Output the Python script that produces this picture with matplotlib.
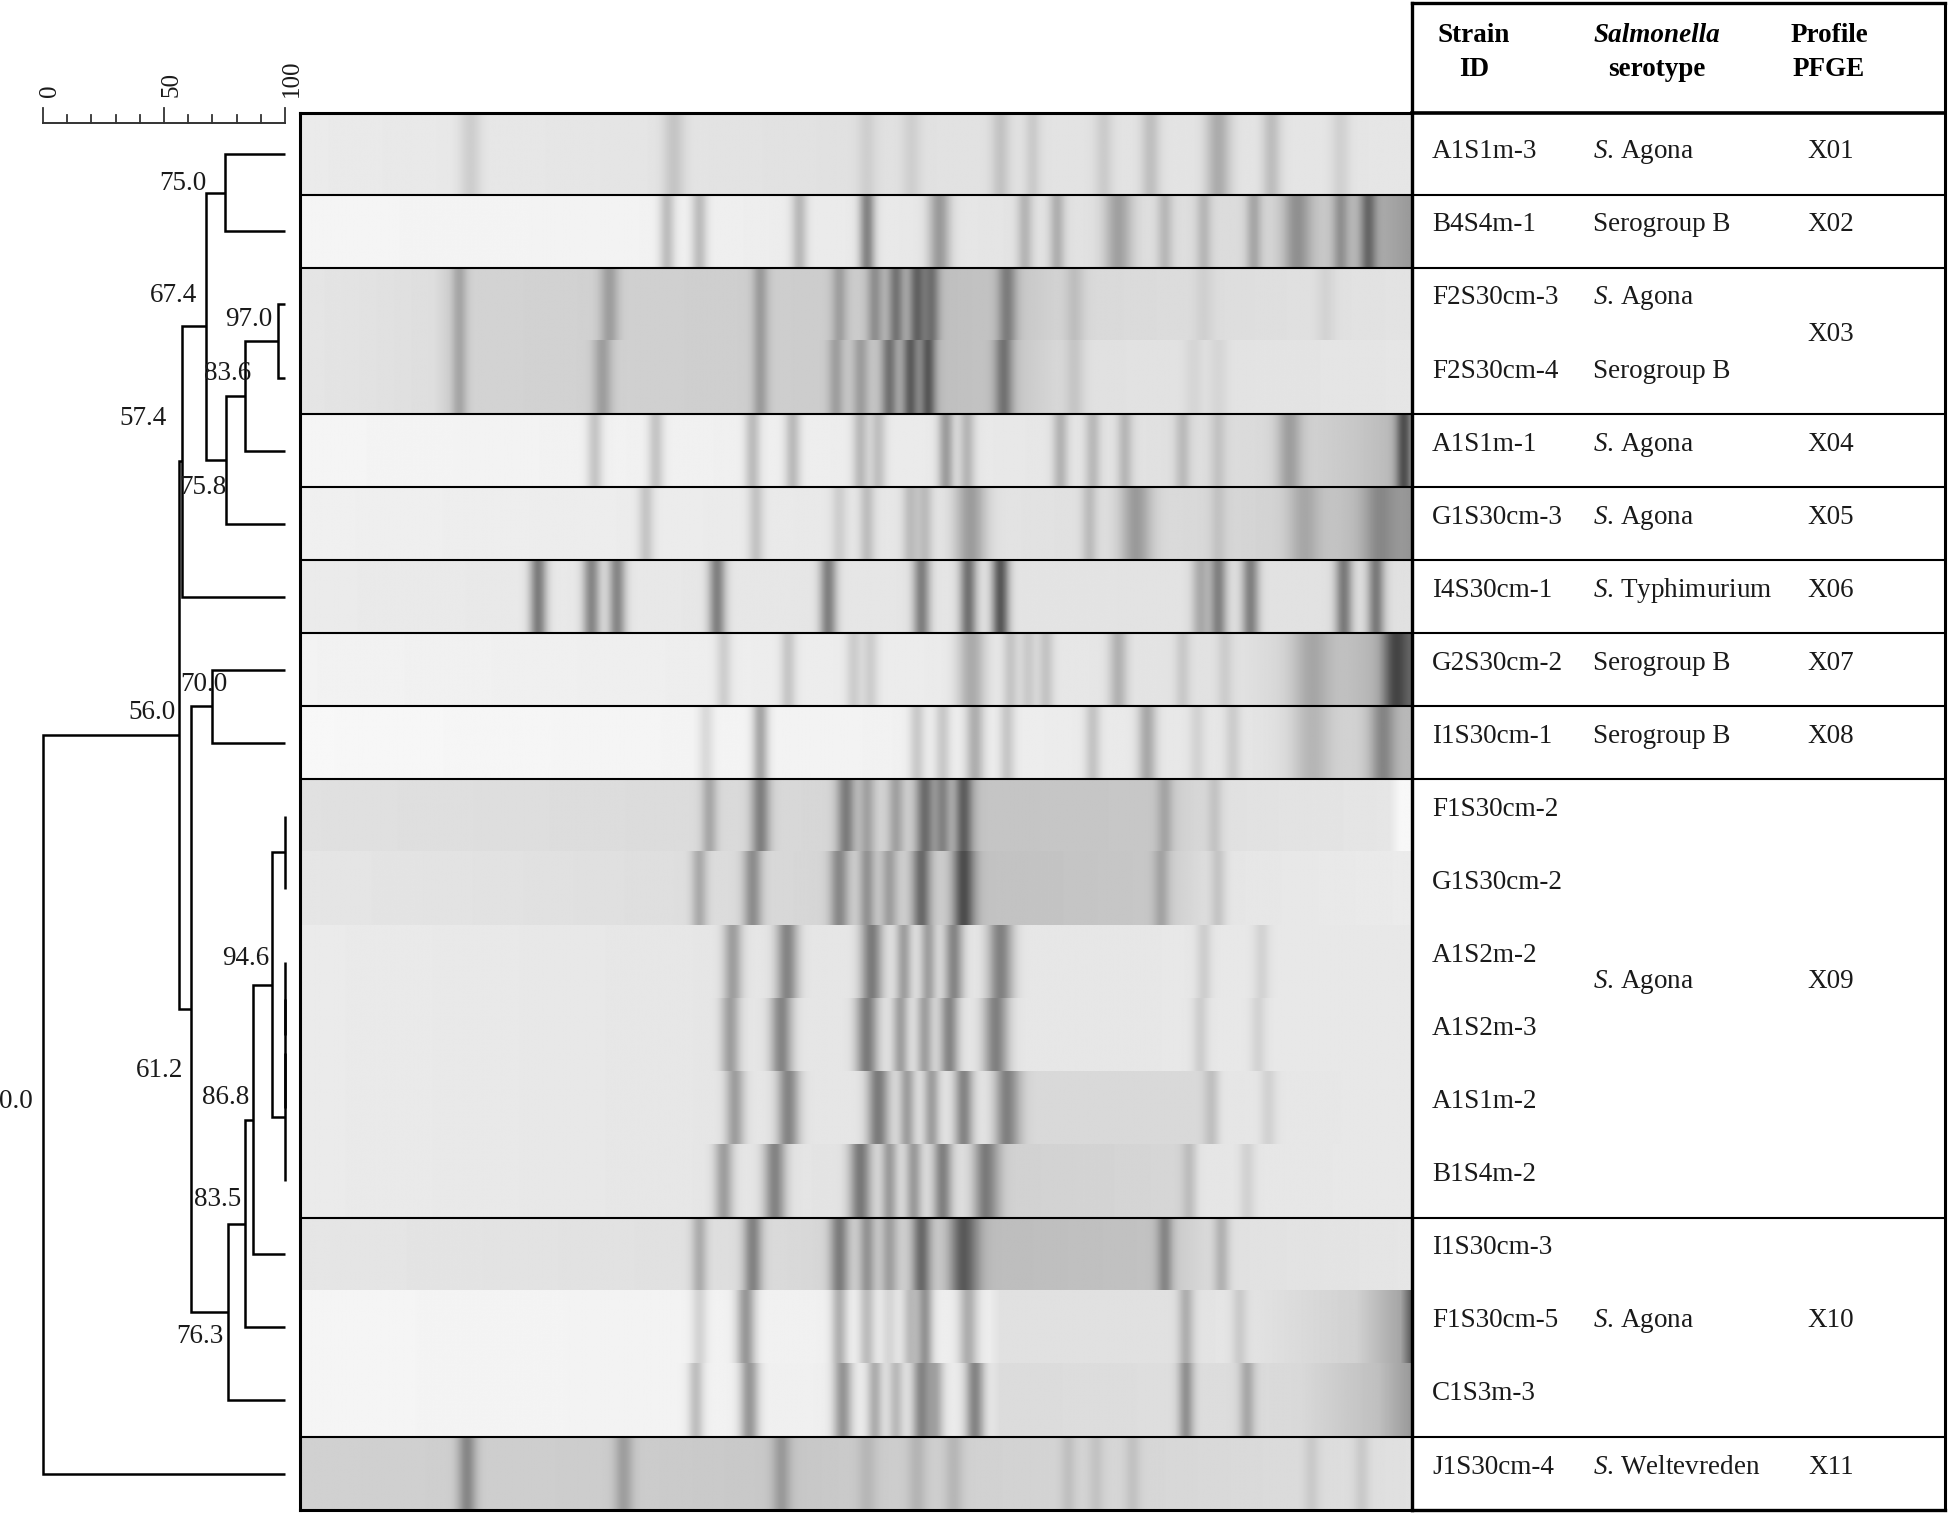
import numpy as np
import matplotlib
matplotlib.use("Agg")
import matplotlib.pyplot as plt

plt.rcParams['font.family'] = ['Liberation Serif', 'DejaVu Serif']
plt.rcParams['mathtext.fontset'] = 'custom'
plt.rcParams['mathtext.rm'] = 'Liberation Serif'
plt.rcParams['mathtext.it'] = 'Liberation Serif:italic'
plt.rcParams['mathtext.bf'] = 'Liberation Serif:bold'

# ---------------- data ----------------
strains = ["A1S1m-3", "B4S4m-1", "F2S30cm-3", "F2S30cm-4", "A1S1m-1", "G1S30cm-3",
           "I4S30cm-1", "G2S30cm-2", "I1S30cm-1", "F1S30cm-2", "G1S30cm-2", "A1S2m-2",
           "A1S2m-3", "A1S1m-2", "B1S4m-2", "I1S30cm-3", "F1S30cm-5", "C1S3m-3", "J1S30cm-4"]

AG = r"$\mathit{S}$. Agona"
serotype_names = [AG, "Serogroup B", AG, "Serogroup B", AG, AG, r"$\mathit{S}$. Typhimurium",
                  "Serogroup B", "Serogroup B", AG, AG, r"$\mathit{S}$. Weltevreden"]
serotype_first = [0, 1, 2, 3, 4, 5, 6, 7, 8, 9, 15, 18]
serotype_last = [0, 1, 2, 3, 4, 5, 6, 7, 8, 14, 17, 18]

profile_names = ["X01", "X02", "X03", "X04", "X05", "X06", "X07", "X08", "X09", "X10", "X11"]
profile_first = [0, 1, 2, 4, 5, 6, 7, 8, 9, 15, 18]
profile_last = [0, 1, 3, 4, 5, 6, 7, 8, 14, 17, 18]

# dendrogram merges (ids >= 19 are previous merges, in order)
merge_a = [2, 19, 20, 0, 22, 23, 7, 9, 11, 27, 28, 26, 30, 31, 32, 25, 24, 35]
merge_b = [3, 4, 5, 1, 21, 6, 8, 10, 12, 13, 14, 29, 15, 16, 17, 33, 34, 18]
merge_sim = [97.0, 83.6, 75.8, 75.0, 67.4, 57.4, 70.0, 100, 100, 100, 100,
             94.6, 86.8, 83.5, 76.3, 61.2, 56.0, 0.0]

scale_ticks = [0, 10, 20, 30, 40, 50, 60, 70, 80, 90, 100]
scale_labels = [0, 50, 100]

# gel lanes: band positions (% of gel width), intensities, widths; background levels
band_pos = [
    [15.3, 33.6, 51.0, 55.0, 63.0, 65.9, 72.3, 76.5, 82.6, 87.4, 93.6],
    [33.0, 35.9, 44.9, 51.0, 57.5, 65.2, 68.1, 73.6, 77.8, 81.3, 85.8, 89.7, 93.6, 96.1],
    [14.3, 27.8, 41.4, 48.5, 51.7, 53.6, 55.5, 56.8, 63.6, 69.7, 81.3, 92.3],
    [14.3, 27.2, 41.4, 48.2, 50.4, 53.0, 54.9, 56.5, 63.3, 69.7, 80.4, 82.6],
    [26.5, 32.0, 40.7, 44.3, 50.4, 52.0, 58.1, 60.0, 68.4, 71.3, 74.2, 79.4, 82.6, 89.0, 99.3],
    [31.1, 41.0, 48.5, 51.0, 54.9, 56.2, 60.3, 71.0, 75.2, 82.6, 90.3, 97.0],
    [21.4, 26.2, 28.5, 37.5, 47.5, 55.9, 60.1, 63.0, 81.0, 82.6, 85.5, 93.9, 96.8],
    [38.1, 43.9, 49.8, 51.3, 60.4, 63.9, 65.5, 67.1, 73.6, 79.4, 83.2, 91.0, 98.5],
    [36.5, 41.4, 55.5, 57.8, 60.7, 63.6, 71.3, 76.2, 80.7, 83.9, 91.0, 97.4],
    [36.8, 41.4, 49.1, 51.0, 53.6, 56.2, 57.8, 59.7, 77.8, 82.3],
    [35.9, 40.7, 48.5, 51.0, 53.0, 55.9, 59.7, 77.5, 82.6],
    [38.9, 43.8, 51.4, 54.3, 56.5, 58.8, 63.0, 81.3, 86.5],
    [38.7, 43.3, 51.0, 54.0, 56.2, 58.4, 62.6, 81.0, 86.2],
    [39.1, 43.9, 52.0, 54.6, 56.8, 59.7, 63.6, 82.0, 87.1],
    [38.1, 42.7, 50.4, 53.0, 55.2, 57.8, 61.7, 80.0, 85.2],
    [35.9, 40.7, 48.5, 51.0, 53.0, 55.9, 59.7, 77.8, 82.9],
    [35.9, 40.1, 48.5, 51.0, 53.0, 54.9, 56.2, 60.1, 79.7, 84.5],
    [35.6, 40.4, 48.8, 51.7, 53.6, 55.9, 57.2, 60.7, 79.7, 85.2],
    [15.0, 29.1, 43.3, 51.0, 55.5, 58.8, 69.1, 71.6, 74.9, 91.0, 95.5],
]
band_int = [
    [0.10, 0.12, 0.07, 0.07, 0.12, 0.09, 0.09, 0.14, 0.22, 0.15, 0.08],
    [0.20, 0.20, 0.20, 0.40, 0.30, 0.18, 0.20, 0.25, 0.15, 0.15, 0.20, 0.25, 0.20, 0.30],
    [0.18, 0.20, 0.20, 0.18, 0.22, 0.30, 0.35, 0.30, 0.28, 0.10, 0.05, 0.05],
    [0.18, 0.20, 0.20, 0.18, 0.18, 0.32, 0.38, 0.40, 0.32, 0.10, 0.05, 0.05],
    [0.17, 0.17, 0.20, 0.20, 0.20, 0.17, 0.30, 0.20, 0.20, 0.17, 0.17, 0.14, 0.10, 0.22, 0.40],
    [0.15, 0.15, 0.10, 0.16, 0.16, 0.16, 0.28, 0.14, 0.26, 0.08, 0.16, 0.15],
    [0.42, 0.38, 0.38, 0.40, 0.40, 0.40, 0.45, 0.55, 0.22, 0.38, 0.38, 0.40, 0.40],
    [0.12, 0.15, 0.12, 0.12, 0.25, 0.14, 0.12, 0.14, 0.20, 0.10, 0.08, 0.16, 0.30],
    [0.10, 0.30, 0.15, 0.15, 0.25, 0.15, 0.15, 0.25, 0.08, 0.10, 0.14, 0.25],
    [0.20, 0.35, 0.35, 0.20, 0.20, 0.40, 0.30, 0.45, 0.15, 0.10],
    [0.20, 0.30, 0.30, 0.25, 0.20, 0.40, 0.50, 0.15, 0.12],
    [0.28, 0.38, 0.42, 0.28, 0.28, 0.38, 0.40, 0.10, 0.08],
    [0.28, 0.38, 0.42, 0.28, 0.28, 0.38, 0.40, 0.10, 0.08],
    [0.28, 0.38, 0.42, 0.28, 0.28, 0.38, 0.40, 0.10, 0.08],
    [0.28, 0.38, 0.42, 0.28, 0.28, 0.38, 0.40, 0.10, 0.08],
    [0.20, 0.35, 0.35, 0.25, 0.20, 0.40, 0.45, 0.25, 0.18],
    [0.12, 0.35, 0.25, 0.20, 0.10, 0.20, 0.35, 0.25, 0.20, 0.10],
    [0.20, 0.35, 0.35, 0.25, 0.20, 0.40, 0.25, 0.40, 0.30, 0.20],
    [0.28, 0.18, 0.18, 0.08, 0.10, 0.10, 0.08, 0.07, 0.08, 0.07, 0.08],
]
band_w = [
    [0.7, 0.7, 0.6, 0.6, 0.6, 0.5, 0.6, 0.6, 0.8, 0.6, 0.6],
    [0.5, 0.5, 0.5, 0.5, 0.7, 0.5, 0.5, 0.9, 0.5, 0.5, 0.5, 0.9, 0.5, 0.5],
    [0.5, 0.6, 0.5, 0.5, 0.5, 0.5, 0.5, 0.5, 0.6, 0.6, 0.6, 0.6],
    [0.5, 0.6, 0.5, 0.5, 0.5, 0.5, 0.5, 0.5, 0.6, 0.6, 0.6, 0.6],
    [0.5, 0.5, 0.5, 0.5, 0.5, 0.5, 0.5, 0.5, 0.5, 0.5, 0.5, 0.5, 0.5, 0.8, 0.5],
    [0.5, 0.5, 0.5, 0.5, 0.5, 0.5, 1.0, 0.5, 1.0, 0.5, 1.0, 1.0],
    [0.55] * 13,
    [0.5, 0.5, 0.5, 0.5, 0.9, 0.5, 0.5, 0.5, 0.6, 0.5, 0.5, 1.2, 0.8],
    [0.5, 0.5, 0.5, 0.5, 0.6, 0.5, 0.5, 0.6, 0.5, 0.5, 1.2, 0.8],
    [0.5, 0.6, 0.6, 0.5, 0.5, 0.6, 0.5, 0.6, 0.5, 0.5],
    [0.5, 0.6, 0.6, 0.5, 0.5, 0.6, 0.7, 0.5, 0.5],
    [0.6, 0.7, 0.7, 0.5, 0.5, 0.6, 0.8, 0.5, 0.5],
    [0.6, 0.7, 0.7, 0.5, 0.5, 0.6, 0.8, 0.5, 0.5],
    [0.6, 0.7, 0.7, 0.5, 0.5, 0.6, 0.8, 0.5, 0.5],
    [0.6, 0.7, 0.7, 0.5, 0.5, 0.6, 0.8, 0.5, 0.5],
    [0.5, 0.6, 0.6, 0.5, 0.5, 0.6, 0.9, 0.5, 0.5],
    [0.5, 0.6, 0.5, 0.5, 0.5, 0.5, 0.5, 0.6, 0.5, 0.5],
    [0.5, 0.6, 0.6, 0.5, 0.5, 0.6, 0.5, 0.6, 0.5, 0.5],
    [0.6, 0.6, 0.6, 0.6, 0.6, 0.6, 0.5, 0.5, 0.5, 0.5, 0.5],
]
bg_x = [
    [0, 50, 100],
    [0, 30, 60, 85, 93, 100],
    [0, 12, 13, 50, 55, 64, 70, 100],
    [0, 12, 13, 50, 55, 64, 70, 100],
    [0, 40, 70, 88, 95, 100],
    [0, 40, 70, 90, 96, 100],
    [0, 50, 100],
    [0, 60, 85, 92, 97, 100],
    [0, 50, 85, 95, 100],
    [0, 35, 60, 61, 77, 83, 98, 99, 100],
    [0, 35, 60, 61, 77, 83, 100],
    [0, 40, 100],
    [0, 40, 100],
    [0, 40, 64, 65, 82, 83, 100],
    [0, 40, 62, 63, 80, 81, 100],
    [0, 35, 60, 61, 77, 83, 100],
    [0, 35, 62, 63, 78, 84, 95, 99, 100],
    [0, 35, 62, 63, 80, 90, 97, 100],
    [0, 30, 45, 60, 90, 100],
]
bg_v = [
    [0.92, 0.88, 0.90],
    [0.96, 0.95, 0.90, 0.86, 0.78, 0.60],
    [0.90, 0.87, 0.83, 0.80, 0.74, 0.77, 0.85, 0.89],
    [0.90, 0.87, 0.83, 0.80, 0.74, 0.77, 0.88, 0.90],
    [0.96, 0.94, 0.90, 0.85, 0.78, 0.70],
    [0.94, 0.92, 0.88, 0.82, 0.72, 0.58],
    [0.92, 0.90, 0.88],
    [0.95, 0.92, 0.88, 0.80, 0.70, 0.45],
    [0.97, 0.95, 0.90, 0.82, 0.72],
    [0.88, 0.86, 0.82, 0.77, 0.78, 0.88, 0.90, 0.97, 0.97],
    [0.90, 0.87, 0.80, 0.76, 0.78, 0.90, 0.92],
    [0.92, 0.90, 0.91],
    [0.92, 0.90, 0.91],
    [0.92, 0.90, 0.90, 0.85, 0.85, 0.90, 0.91],
    [0.92, 0.90, 0.88, 0.82, 0.84, 0.90, 0.91],
    [0.90, 0.88, 0.80, 0.74, 0.76, 0.88, 0.90],
    [0.96, 0.95, 0.93, 0.88, 0.88, 0.90, 0.82, 0.65, 0.35],
    [0.96, 0.95, 0.92, 0.86, 0.87, 0.85, 0.75, 0.60],
    [0.82, 0.80, 0.78, 0.82, 0.86, 0.88],
]

# ---------------- layout ----------------
W, H = 1950, 1515
TOP_PX = 113.0
PXL = 73.07
TOP_U = -0.12
N = len(strains)
FS = 19.5


def U(py):
    return (py - TOP_PX) / PXL + TOP_U


def rect(x0, y0, x1, y1):
    return [x0 / W, 1 - y1 / H, (x1 - x0) / W, (y1 - y0) / H]


def group_y(f, l):
    # baseline for a (possibly merged) table cell; tall cells sit a bit higher
    return (f + l + 1) / 2 - (0.14 if (l - f) >= 5 else 0.0)


lane_top = [TOP_U] + list(range(1, N))
lane_bot = list(range(1, N + 1))
lane_mid = [(t + b) / 2 for t, b in zip(lane_top, lane_bot)]
lane_base = [i + 0.5 for i in range(N)]

fig = plt.figure(figsize=(W / 100, H / 100), dpi=100)

# ---------------- dendrogram ----------------
S2PX, X0PX = 2.42, 43.0
axd = fig.add_axes(rect(0, 0, 300, H))
axd.set_xlim(-X0PX / S2PX, (300 - X0PX) / S2PX)
axd.set_ylim(U(H), U(0))
axd.axis('off')

node_x = {i: 100.0 for i in range(N)}
node_y = {i: lane_mid[i] for i in range(N)}
label_off = {97.0: (-5, -24), 83.6: (6, -25), 75.8: (0, 25), 75.0: (-18, -12),
             67.4: (-9, -33), 57.4: (-15, -45), 70.0: (15, -24), 94.6: (-3, -29),
             86.8: (-4, -25), 83.5: (-4, -27), 76.3: (-4, 22), 61.2: (-8, 59),
             56.0: (-3, -25), 0.0: (-10, -5)}
for k, (a, b, s) in enumerate(zip(merge_a, merge_b, merge_sim)):
    nid = N + k
    xa, ya, xb, yb = node_x[a], node_y[a], node_x[b], node_y[b]
    axd.plot([xa, s, s, xb], [ya, ya, yb, yb], color='black', lw=1.8,
             solid_joinstyle='miter', solid_capstyle='butt')
    node_x[nid] = s
    node_y[nid] = (ya + yb) / 2
    if s < 100:
        dx, dy = label_off.get(s, (-4, -25))
        axd.annotate(f"{s:.1f}", (s, node_y[nid]), xytext=(dx * 0.72, -(dy + 9) * 0.72),
                     textcoords='offset points', ha='right', va='baseline',
                     fontsize=FS, color='#1a1a1a', annotation_clip=False)

# scale bar
yb0 = U(123)
axd.plot([scale_ticks[0], scale_ticks[-1]], [yb0, yb0], color='#333333', lw=1.4)
for t in scale_ticks:
    ytop = U(108) if t in scale_labels else U(115)
    axd.plot([t, t], [yb0, ytop], color='#333333', lw=1.3)
for t in scale_labels:
    axd.text(t + 3, U(97), str(t), rotation=90, ha='center', va='bottom',
             fontsize=18, color='#1a1a1a')

# ---------------- gel ----------------
axg = fig.add_axes(rect(300, TOP_PX, 1412, 1510))
xg = np.linspace(0, 100, 1400)
for i in range(N):
    prof = np.interp(xg, bg_x[i], bg_v[i])
    for p, a, w in zip(band_pos[i], band_int[i], band_w[i]):
        prof = prof - a * np.exp(-0.5 * ((xg - p) / w) ** 2)
    img = np.clip(np.vstack([prof, prof]), 0, 1)
    axg.imshow(img, cmap='gray', vmin=0, vmax=1, aspect='auto',
               extent=(0, 100, lane_bot[i], lane_top[i]), interpolation='bilinear')
axg.set_xlim(0, 100)
axg.set_ylim(N, TOP_U)
axg.set_xticks([])
axg.set_yticks([])
for sp in axg.spines.values():
    sp.set_linewidth(2.2)
boundaries = [profile_last[k] + 1 for k in range(len(profile_names) - 1)]
axg.hlines(boundaries, 0, 100, color='black', lw=1.5)

# ---------------- table ----------------
TW = 533
axt = fig.add_axes(rect(1412, 0, 1412 + TW, H))
axt.set_xlim(0, TW)
axt.set_ylim(U(H), U(0))
axt.axis('off')
ytop_t = U(3)
kw = dict(color='black', clip_on=False)
axt.plot([0, 0], [ytop_t, N], lw=2.4, **kw)
axt.plot([TW, TW], [ytop_t, N], lw=2.2, **kw)
axt.plot([0, TW], [ytop_t, ytop_t], lw=2.4, **kw)
axt.plot([0, TW], [TOP_U, TOP_U], lw=2.6, **kw)
axt.plot([0, TW], [N, N], lw=2.4, **kw)
axt.hlines(boundaries, 0, TW, color='black', lw=1.5, clip_on=False)

axt.text(62, U(42), "Strain", ha='center', va='baseline', fontsize=FS, weight='bold')
axt.text(62, U(76), "ID", ha='center', va='baseline', fontsize=FS, weight='bold')
axt.text(245, U(42), "Salmonella", ha='center', va='baseline', fontsize=FS,
         weight='bold', style='italic')
axt.text(245, U(76), "serotype", ha='center', va='baseline', fontsize=FS, weight='bold')
axt.text(417, U(42), "Profile", ha='center', va='baseline', fontsize=FS, weight='bold')
axt.text(417, U(76), "PFGE", ha='center', va='baseline', fontsize=FS, weight='bold')

for i, s in enumerate(strains):
    axt.text(20, lane_base[i], s, ha='left', va='baseline', fontsize=FS, color='#1a1a1a')
for name, f, l in zip(serotype_names, serotype_first, serotype_last):
    axt.text(181, group_y(f, l), name, ha='left', va='baseline', fontsize=FS, color='#1a1a1a')
for name, f, l in zip(profile_names, profile_first, profile_last):
    axt.text(419, group_y(f, l), name, ha='center', va='baseline', fontsize=FS, color='#1a1a1a')

fig.savefig("out.png", dpi=100, facecolor='white')
